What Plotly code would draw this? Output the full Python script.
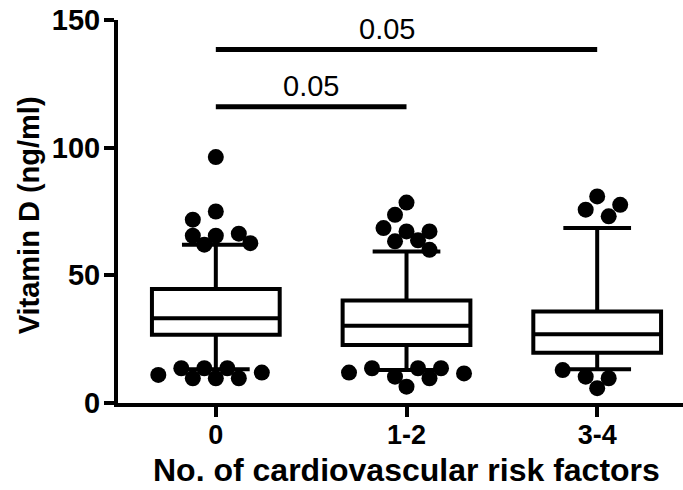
import plotly.graph_objects as go

# ---- data ----
categories = ["0", "1-2", "3-4"]
q1 = [26.7, 22.7, 19.7]
median = [33.2, 30.3, 26.9]
q3 = [44.6, 40.1, 35.8]
lower_whisker = [13.2, 12.9, 13.2]
upper_whisker = [62.0, 59.3, 68.5]

outliers = [
    [96.3, 75.0, 71.8, 65.5, 66.3, 65.5, 62.6, 62.0,
     9.7, 13.6, 13.6, 9.7, 9.7, 13.6, 11.9, 11.0],
    [78.5, 73.7, 67.2, 68.5, 67.2, 63.3, 63.7, 60.0,
     6.4, 10.3, 13.6, 13.6, 9.7, 13.6, 11.9, 11.6],
    [80.9, 75.7, 73.1, 77.6,
     5.8, 10.3, 9.7, 12.9],
]

comparisons = [(0, 1), (0, 2)]
comparison_labels = ["0.05", "0.05"]
comparison_levels = [116.0, 138.4]

y_ticks = [0, 50, 100, 150]

# ---- layout constants ----
W, H = 683, 490
ML, MR, MT, MB = 118, 0, 20, 87
XMIN, XMAX = -0.513, 2.45
YMIN, YMAX = 0, 150
px_per_x = (W - ML - MR) / (XMAX - XMIN)
px_per_y = (H - MT - MB) / (YMAX - YMIN)
FONT = "Liberation Sans, Arial"


def swarm(values, step_px=11.5, dmin=14.5):
    placed = []
    offs = []
    cands = [0]
    for i in range(1, 40):
        cands += [-i, i]
    for v in values:
        yp = v * px_per_y
        for c in cands:
            xp = c * step_px
            if all((xp - a) ** 2 + (yp - b) ** 2 >= dmin ** 2 for a, b in placed):
                placed.append((xp, yp))
                offs.append(xp / px_per_x)
                break
    return offs


fig = go.Figure()
xs = list(range(len(categories)))

fig.add_trace(go.Box(
    x=xs, q1=q1, median=median, q3=q3,
    lowerfence=lower_whisker, upperfence=upper_whisker,
    boxpoints=False, width=0.67, whiskerwidth=0.53,
    fillcolor="white", line=dict(color="black", width=4),
    showlegend=False, hoverinfo="skip",
))

for i, vals in enumerate(outliers):
    offs = swarm(vals)
    fig.add_trace(go.Scatter(
        x=[i + o for o in offs], y=vals, mode="markers",
        marker=dict(color="black", size=16, line=dict(width=0)),
        showlegend=False, hoverinfo="skip",
    ))

for (a, b), lab, lev, xs_ in zip(comparisons, comparison_labels, comparison_levels, [0, -20]):
    fig.add_shape(type="line", x0=a, x1=b, y0=lev, y1=lev, xref="x", yref="y",
                  line=dict(color="black", width=5))
    fig.add_annotation(x=(a + b) / 2, y=lev, text=lab, showarrow=False,
                       xref="x", yref="y", yanchor="middle", yshift=21, xshift=xs_,
                       font=dict(family=FONT, size=29, color="black"))

fig.add_annotation(text="<b>Vitamin D (ng/ml)</b>", textangle=-90, showarrow=False,
                   xref="paper", yref="paper", x=0, y=0.49, xshift=-89,
                   xanchor="center", yanchor="middle",
                   font=dict(family=FONT, size=29, color="black"))
fig.add_annotation(text="<b>No. of cardiovascular risk factors</b>", showarrow=False,
                   xref="x", yref="paper", x=1.0, y=0, yshift=-86,
                   xanchor="center", yanchor="bottom", borderpad=0,
                   font=dict(family=FONT, size=32, color="black"))

axis_common = dict(showgrid=False, zeroline=False, showline=True, linecolor="black",
                   linewidth=4, ticks="outside", ticklen=10, tickwidth=4,
                   tickcolor="black", automargin=False)

fig.update_layout(
    width=W, height=H, margin=dict(l=ML, r=MR, t=MT, b=MB, autoexpand=False),
    plot_bgcolor="white", paper_bgcolor="white",
    xaxis=dict(range=[XMIN, XMAX], tickvals=xs,
               ticktext=["<b>%s</b>" % c for c in categories],
               ticklabelstandoff=-5,
               tickfont=dict(family=FONT, size=27, color="black"), **axis_common),
    yaxis=dict(range=[YMIN, YMAX], tickvals=y_ticks,
               ticktext=["<b>%d</b>" % t for t in y_ticks],
               ticklabelstandoff=-2,
               tickfont=dict(family=FONT, size=29, color="black"), **axis_common),
)

fig.write_html("out.html", config={"displayModeBar": False},
               post_script="document.body.style.margin='0';document.body.style.overflow='hidden';")
